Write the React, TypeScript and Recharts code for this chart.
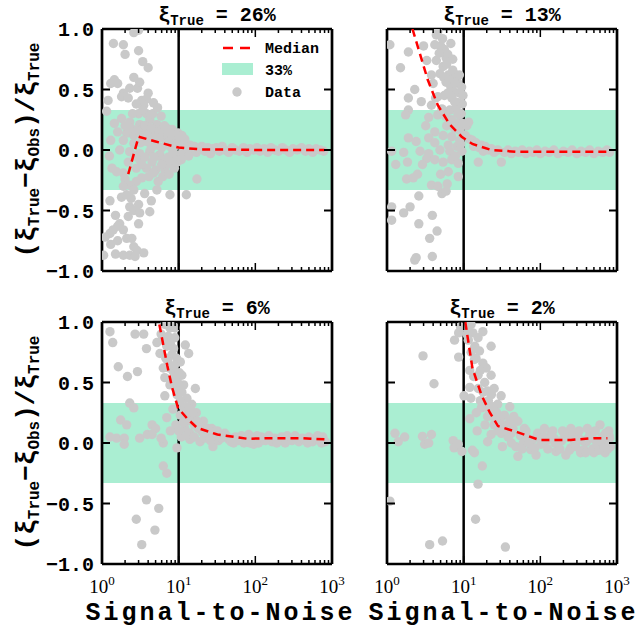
import React from 'react';
import { ComposedChart, Scatter, XAxis, YAxis, ReferenceArea, ReferenceLine } from 'recharts';

type Pt = [number, number];

const xTicks = [1, 2, 3, 4, 5, 6, 7, 8, 9, 10, 20, 30, 40, 50, 60, 70, 80, 90, 100, 200, 300, 400, 500, 600, 700, 800, 900, 1000];
const yTicks = [-1, -0.5, 0, 0.5, 1];
const yTickLabels = ['\u22121.0', '\u22120.5', '0.0', '0.5', '1.0'];
const panelTitles = ['26%', '13%', '6%', '2%'];
const bandLimit = 0.33;
const snrCut = 10;

// scatter points: [signal-to-noise, relative error]
const tlPoints: Pt[] = [
  [2.6, 0.97], [3.0, 0.99], [1.41, 0.88], [1.9, 0.87], [2.0, 0.79], [3.0, 0.82], [3.4, 0.73], [4.0, 0.68],
  [2.6, 0.6], [1.45, 0.58], [1.6, 0.55], [1.9, 0.47], [1.8, 0.44], [2.3, 0.51], [2.9, 0.51], [4.0, 0.47],
  [3.3, 0.41], [3.8, 0.42], [4.7, 0.39], [3.5, 0.37], [2.8, 0.38], [3.0, 0.3], [3.8, 0.3], [1.15, 0.32],
  [1.2, 0.41], [2.2, 0.43], [3.1, 0.56], [1.3, 0.55],
  [1.8, 0.26], [2.3, 0.23], [3.1, 0.21], [4.2, 0.25], [5.2, 0.21], [7.0, 0.18], [1.6, 0.15], [2.1, 0.14],
  [2.6, 0.12], [3.5, 0.15], [4.7, 0.12], [6.3, 0.11], [8.1, 0.1], [1.9, 0.08], [2.6, 0.055], [3.8, 0.07],
  [5.2, 0.04], [7.7, 0.03], [9.0, 0.055], [1.7, 0.0], [2.3, -0.014], [3.1, -0.03], [4.2, -0.014], [5.7, -0.04],
  [8.0, -0.1], [2.2, -0.1], [3.1, -0.08], [4.5, -0.1], [6.3, -0.08], [1.55, -0.18], [1.9, -0.19], [2.8, -0.15],
  [3.8, -0.15], [5.0, -0.165], [6.6, -0.165], [4.7, -0.19], [3.3, -0.23], [2.8, -0.26], [2.3, -0.29], [5.5, -0.05],
  [7.0, 0.13], [9.3, 0.09], [6.0, 0.02], [4.4, 0.02], [3.4, 0.1], [1.3, 0.08], [1.25, -0.05], [6.8, -0.13],
  [9.0, -0.04], [8.2, 0.17], [5.9, 0.28],
  [2.4, 0.18], [2.9, 0.16], [3.6, 0.2], [4.4, 0.18], [5.5, 0.15], [6.5, 0.2], [7.5, 0.07], [8.6, 0.12],
  [9.6, 0.04], [3.2, 0.06], [3.9, 0.12], [4.9, 0.08], [5.6, 0.1], [6.9, 0.05], [8.4, -0.02], [2.7, -0.05],
  [3.6, -0.06], [4.8, -0.06], [6.0, -0.12], [7.3, -0.06], [8.8, -0.15], [3.3, -0.12], [4.1, -0.22], [5.4, -0.26],
  [6.2, -0.22], [7.5, -0.2], [2.5, 0.3], [3.4, 0.33], [4.6, 0.3], [5.3, 0.35], [2.0, 0.2], [1.45, 0.22],
  [1.35, -0.15], [2.0, -0.24], [3.6, -0.36], [4.4, -0.42], [2.6, -0.33], [1.9, -0.3], [9.8, 0.14], [9.5, -0.1],
  [5.2, -0.33], [7.7, -0.37], [12.6, -0.37], [1.27, -0.42], [1.8, -0.39], [2.1, -0.37], [2.4, -0.4], [2.3, -0.47],
  [3.0, -0.45], [2.6, -0.5], [3.1, -0.52], [1.5, -0.54], [2.2, -0.55], [4.2, -0.51], [3.0, -0.61], [1.7, -0.61],
  [1.6, -0.63], [1.4, -0.66], [1.27, -0.69], [1.9, -0.66], [2.1, -0.73], [2.45, -0.73], [2.6, -0.8], [2.85, -0.83],
  [1.5, -0.86], [1.9, -0.87], [2.3, -0.87], [2.7, -0.88], [3.5, -0.85], [1.05, -0.87], [1.1, -0.72], [1.6, -0.75],
  [1.3, -0.78], [17.3, -0.24],
  [10.5, 0.05], [11, -0.03], [11.5, 0.02], [12, 0.06], [12.5, -0.02], [13, 0.01], [14, 0.04], [15, -0.01],
  [16, 0.03], [17, -0.02], [18, 0.01], [20, 0.03], [22, -0.01], [24, 0.02], [26, -0.03], [28, 0.01],
  [31, 0.02], [34, -0.01], [37, 0.03], [40, 0.0], [45, -0.02], [50, 0.02], [55, 0.0], [62, -0.01],
  [70, 0.02], [78, -0.02], [85, 0.01], [95, 0.0], [105, 0.02], [115, -0.01], [130, 0.01], [145, -0.02],
  [160, 0.02], [180, 0.0], [200, -0.01], [225, 0.02], [250, 0.0], [280, -0.02], [310, 0.01], [350, 0.0],
  [400, 0.02], [450, -0.01], [500, 0.01], [560, -0.02], [620, 0.01], [700, 0.0], [780, -0.01], [10.2, 0.1],
  [11, 0.12], [10.8, -0.08], [13.5, -0.05], [12, 0.09],
];

const trPoints: Pt[] = [
  [1.09, 0.87], [1.9, 0.81], [3.0, 0.86], [4.2, 0.87], [4.6, 0.98], [5.6, 0.83], [5.9, 0.76], [3.3, 0.74],
  [4.4, 0.74], [5.4, 0.69], [1.5, 0.68], [3.8, 0.62], [4.9, 0.63], [6.3, 0.62], [7.9, 0.62], [5.9, 0.56],
  [4.0, 0.55], [2.3, 0.5], [2.8, 0.4], [1.9, 0.43], [4.6, 0.44], [5.6, 0.45], [7.0, 0.43], [8.5, 0.39],
  [3.8, 0.37], [5.2, 0.34], [6.6, 0.33], [1.9, 0.33], [1.75, 0.29], [3.5, 0.27], [4.6, 0.29], [7.0, 0.25],
  [8.8, 0.23], [4.2, 0.15], [5.4, 0.12], [7.0, 0.11], [1.9, 0.1], [2.4, 0.07], [3.5, 0.1], [4.2, 0.06],
  [6.3, 0.04], [8.2, 0.03], [9.5, -0.01], [1.15, -0.01], [1.65, -0.02], [2.7, -0.01], [3.5, -0.03], [4.9, 0.0],
  [6.6, -0.01], [1.3, -0.12], [1.85, -0.1], [3.3, -0.07], [4.2, -0.08], [5.4, -0.1], [7.0, -0.08], [8.5, -0.11],
  [6.3, -0.18], [8.5, -0.22], [1.8, -0.24], [2.2, -0.23], [2.5, -0.2], [3.8, -0.29], [4.6, -0.3], [5.2, -0.36],
  [5.9, -0.34], [2.6, -0.38], [1.15, -0.47], [1.65, -0.52], [2.0, -0.47], [3.9, -0.54], [2.6, -0.61], [4.5, -0.67],
  [3.6, -0.73], [1.15, -0.58], [2.4, -0.89], [3.9, -0.88], [2.3, -0.91],
  [5.0, 0.86], [6.0, 0.71], [7.2, 0.66], [6.8, 0.52], [7.5, 0.48], [8.8, 0.47], [8.0, 0.35], [9.3, 0.3],
  [6.0, 0.2], [9.0, 0.16], [9.6, 0.38], [8.3, 0.56],
  [4.8, 0.8], [5.3, 0.92], [6.2, 0.79], [6.8, 0.88], [7.2, 0.75], [5.5, 0.6], [6.5, 0.58], [7.8, 0.55],
  [8.8, 0.62], [9.4, 0.52], [9.8, 0.45], [6.2, 0.47], [7.6, 0.4], [8.4, 0.3], [9.7, 0.22], [8.9, 0.08],
  [7.6, 0.18], [5.8, 0.28], [4.3, 0.43], [3.2, 0.2], [2.9, -0.12], [6.1, -0.28], [7.8, -0.05], [9.2, 0.05],
  [5.0, -0.2], [4.4, 0.95],
  [10.5, 0.12], [11, 0.2], [11.6, 0.23], [12, 0.09], [13, 0.08], [13.5, 0.03], [14.5, 0.06], [15.5, -0.1],
  [16, 0.02], [17, 0.04], [18, -0.01], [19, 0.03], [21, 0.0], [23, 0.01], [25, -0.02], [28, 0.0],
  [31, -0.1], [34, -0.02], [38, 0.0], [42, -0.03], [47, -0.01], [52, -0.02], [58, 0.0], [65, -0.03],
  [72, -0.01], [80, -0.02], [90, 0.0], [100, -0.03], [115, -0.01], [130, -0.02], [150, 0.0], [170, -0.03],
  [200, -0.01], [230, -0.02], [260, 0.0], [300, -0.03], [340, -0.01], [390, -0.02], [440, 0.0], [500, -0.03],
  [570, -0.01], [650, -0.02], [740, 0.0], [800, -0.02],
];

const blPoints: Pt[] = [
  [1.27, 0.92], [1.38, 0.83], [2.7, 0.9], [3.5, 0.9], [3.8, 0.78], [1.63, 0.63], [2.15, 0.55], [2.9, 0.59],
  [6.6, 0.98], [7.7, 0.95], [5.9, 0.9], [7.3, 0.88], [8.9, 0.87], [5.2, 0.83], [7.0, 0.8], [12.2, 0.81],
  [13.5, 0.74], [5.7, 0.74], [8.2, 0.73], [10.5, 0.67], [6.3, 0.62], [8.5, 0.59], [11, 0.56], [6.6, 0.54],
  [7.7, 0.48], [11.6, 0.48], [16.5, 0.45], [6.6, 0.39], [9.5, 0.4], [12.8, 0.37], [14.8, 0.32], [2.3, 0.33],
  [2.6, 0.29], [8.4, 0.28], [10.5, 0.23], [17, 0.25], [7.0, 0.21], [1.75, 0.19], [2.1, 0.15], [4.5, 0.15],
  [5.0, 0.12], [12.8, 0.18], [21, 0.18], [7.8, 0.1], [3.9, 0.07], [4.5, 0.07], [6.3, 0.0], [3.1, 0.04],
  [1.27, 0.05], [1.55, 0.04], [1.95, 0.04], [1.95, -0.01], [5.9, 0.04], [9.5, -0.04], [6.3, -0.19], [7.0, -0.25],
  [14, 0.03], [19, 0.01], [28, -0.03], [23, 0.07], [35, 0.055], [52, 0.04], [71, 0.0], [95, -0.01],
  [3.8, -0.47], [5.5, -0.54], [2.8, -0.63], [4.9, -0.72], [3.3, -0.84],
  [6.8, 0.7], [7.5, 0.62], [8.0, 0.5], [9.0, 0.55], [9.8, 0.45], [10.5, 0.35], [11.5, 0.3], [13, 0.25],
  [15, 0.2], [16, 0.15], [18, 0.12], [20, 0.1], [24, 0.08], [27, 0.12], [30, 0.06], [12, 0.12],
  [14, 0.08], [10.8, 0.05], [9.2, 0.15], [22, 0.04], [26, 0.02], [33, 0.02], [40, 0.08], [45, 0.03],
  [6.2, 0.85], [7.8, 0.82], [8.6, 0.78], [9.4, 0.7], [7.2, 0.68], [8.8, 0.64], [10.2, 0.58], [9.7, 0.5],
  [11, 0.42], [12.2, 0.3], [13.8, 0.28], [15.5, 0.25], [17.5, 0.18], [19, 0.14], [21, 0.08], [24, 0.12],
  [28, 0.06], [32, 0.1], [36, 0.04], [42, 0.06], [11.5, 0.17], [10, 0.1], [13, 0.06], [16, 0.05],
  [9.0, 0.95], [8.0, 0.97],
  [48, 0.01], [55, 0.05], [60, 0.02], [66, 0.06], [75, 0.03], [82, 0.07], [90, 0.02], [100, 0.04],
  [110, 0.0], [120, 0.05], [135, 0.02], [150, 0.06], [165, 0.01], [180, 0.04], [200, 0.02], [220, 0.05],
  [245, 0.0], [270, 0.04], [300, 0.02], [330, 0.06], [370, 0.01], [410, 0.04], [450, 0.02], [500, 0.05],
  [560, 0.01], [620, 0.04], [690, 0.02], [760, 0.05], [820, 0.01],
  [52, 0.0], [64, 0.04], [85, 0.0], [105, 0.06], [140, 0.04], [190, 0.0], [260, 0.06], [350, 0.04],
  [480, 0.0], [650, 0.06], [730, 0.0],
];

const brPoints: Pt[] = [
  [1.09, -0.48], [1.27, 0.08], [1.4, 0.01], [1.7, 0.05], [2.9, 0.055], [3.1, -0.01], [3.8, 0.07], [3.5, 0.0],
  [2.95, 0.72], [4.1, 0.49], [7.3, 0.02], [7.5, -0.04], [8.5, -0.01], [9.5, -0.07], [13, -0.06], [13.8, -0.08],
  [17.5, -0.19], [15.4, -0.34], [14.3, -0.63], [3.6, -0.84], [5.3, -0.81], [35, -0.86], [8.6, 0.91], [7.6, 0.85],
  [9.1, 0.96], [8.6, 0.71], [10.1, 0.39], [12.4, 0.37], [12, 0.46], [10.8, 0.96], [12.5, 0.98], [13.2, 0.91],
  [15.4, 0.87], [17.8, 0.92], [22.8, 0.8], [16.1, 0.76], [13.8, 0.69], [17.8, 0.66], [19.7, 0.62], [15.4, 0.56],
  [22.8, 0.56], [18.8, 0.5], [25, 0.45], [30.8, 0.39], [20.5, 0.43], [40, 0.3], [27.8, 0.32], [17, 0.29],
  [14.6, 0.25], [20.5, 0.22], [34, 0.23], [45, 0.22], [25, 0.15], [37.5, 0.15], [51, 0.18], [62, 0.12],
  [31, 0.08], [41.5, 0.08], [22.8, 0.07], [20.5, 0.01], [32, -0.03], [51, -0.11], [48, -0.03], [68, 0.04],
  [92, 0.08], [102, -0.01], [88, -0.1], [137, 0.07], [170, 0.0], [205, 0.08], [250, -0.04], [305, 0.04],
  [370, -0.055], [450, 0.08], [555, -0.01], [600, 0.15], [700, -0.08], [780, 0.1], [820, -0.03], [500, -0.08],
  [335, -0.08], [160, -0.07], [215, -0.1], [75, -0.055], [113, 0.12], [250, 0.12], [410, 0.12], [680, 0.01],
  [11.5, 0.85], [14, 0.8], [12, 0.6], [16.5, 0.6], [18, 0.42], [21, 0.35], [24, 0.3], [27, 0.25],
  [30, 0.2], [33, 0.14], [28, 0.1], [38, 0.05], [44, 0.12], [55, 0.06], [60, 0.0], [80, 0.03],
  [95, 0.05], [120, 0.02], [150, 0.04], [190, 0.02], [230, 0.05], [280, 0.0], [330, 0.03], [400, 0.01],
  [470, 0.04], [530, 0.02], [640, 0.05], [730, 0.03], [790, 0.06],
  [11, 0.9], [12.5, 0.75], [13.5, 0.55], [14.5, 0.7], [15.5, 0.45], [16.5, 0.35], [19, 0.3], [22, 0.25],
  [23, 0.4], [26, 0.2], [29, 0.16], [35, 0.12], [40, 0.18], [12, 0.2], [15, 0.1], [19, 0.15],
  [35, 0.1], [42, 0.0], [58, -0.05], [65, 0.1], [72, 0.0], [85, -0.04], [110, 0.05], [125, -0.05],
  [145, 0.1], [155, 0.0], [180, -0.05], [195, 0.1], [240, -0.06], [265, 0.07], [290, -0.03], [320, 0.1],
  [360, 0.02], [390, -0.08], [430, 0.05], [480, -0.05], [520, 0.1], [580, -0.06], [620, 0.02], [670, -0.04],
  [710, 0.08], [760, -0.05], [800, 0.04],
];

// running medians
const tlMedianX = [2.2, 3.0, 5.0, 10, 20, 50, 100, 200, 500, 800];
const tlMedianY = [-0.2, 0.11, 0.07, 0.02, 0.005, 0.005, 0.0, 0.0, 0.0, 0.0];
const trMedianX = [2.15, 3.4, 4.6, 6.6, 9.4, 13, 23, 50, 100, 300, 800];
const trMedianY = [1.0, 0.58, 0.37, 0.21, 0.11, 0.05, 0.0, -0.015, -0.015, -0.015, -0.015];
const blMedianX = [5.6, 7.1, 8.2, 9.8, 13, 17.4, 32, 79, 150, 400, 800];
const blMedianY = [0.98, 0.64, 0.46, 0.29, 0.2, 0.125, 0.07, 0.035, 0.04, 0.04, 0.03];
const brMedianX = [10.5, 13, 17, 22, 28, 50, 97, 250, 500, 750];
const brMedianY = [1.0, 0.62, 0.4, 0.25, 0.14, 0.09, 0.025, 0.025, 0.04, 0.04];

const MONO = "'Liberation Mono', 'DejaVu Sans Mono', monospace";
const SERIF = "'Liberation Serif', 'DejaVu Serif', serif";
const GRAY = '#c9c9c9';
const MINT = '#aaeed2';

const isMajor = (v: number) => Math.abs(Math.log10(v) - Math.round(Math.log10(v))) < 1e-6;

function BottomTick(props: any) {
  const { x, y, payload, showLabel } = props;
  const major = isMajor(payload.value);
  return (
    <g>
      <line x1={x} x2={x} y1={y} y2={y - (major ? 8 : 4)} stroke="#000" strokeWidth={1.5} />
      {showLabel && major && (
        <text x={x} y={y + 29} textAnchor="middle" fontFamily={SERIF} fontSize={19} fill="#000">
          10<tspan dy={-8} fontSize={13}>{Math.round(Math.log10(payload.value))}</tspan>
        </text>
      )}
    </g>
  );
}

function TopTick(props: any) {
  const { x, y, payload } = props;
  const major = isMajor(payload.value);
  return <line x1={x} x2={x} y1={y} y2={y + (major ? 8 : 4)} stroke="#000" strokeWidth={1.5} />;
}

function LeftTick(props: any) {
  const { x, y, payload, index, showLabel } = props;
  return (
    <g>
      <line x1={x} x2={x + 8} y1={y} y2={y} stroke="#000" strokeWidth={2} />
      {showLabel && (
        <text x={x - 8} y={y} dy="0.35em" textAnchor="end" fontFamily={MONO} fontWeight="bold" fontSize={20} fill="#000">
          {yTickLabels[yTicks.indexOf(payload.value)] ?? yTickLabels[index]}
        </text>
      )}
    </g>
  );
}

function RightTick(props: any) {
  const { x, y } = props;
  return <line x1={x} x2={x - 8} y1={y} y2={y} stroke="#000" strokeWidth={2} />;
}

const toRows = (pts: Pt[]) => pts.map(([x, y]) => ({ x, y }));
const zipRows = (xs: number[], ys: number[]) => xs.map((x, i) => ({ x, y: ys[i] }));

function Panel({ points, medX, medY, showX, showY }: { points: Pt[]; medX: number[]; medY: number[]; showX: boolean; showY: boolean }) {
  const median = zipRows(medX, medY);
  return (
    <ComposedChart width={345} height={310} margin={{ top: 27, right: 11, bottom: 0, left: 0 }}>
      <XAxis dataKey="x" type="number" scale="log" domain={[1, 1000]} allowDataOverflow ticks={xTicks} interval={0}
        tickSize={0} tickMargin={0} height={39} axisLine={{ stroke: '#000', strokeWidth: 2.7 }} tickLine={false}
        tick={(p: any) => <BottomTick {...p} showLabel={showX} />} />
      <XAxis xAxisId="top" orientation="top" dataKey="x" type="number" scale="log" domain={[1, 1000]} allowDataOverflow
        ticks={xTicks} interval={0} tickSize={0} tickMargin={0} height={2} axisLine={{ stroke: '#000', strokeWidth: 2.7 }}
        tickLine={false} tick={(p: any) => <TopTick {...p} />} />
      <YAxis dataKey="y" type="number" domain={[-1, 1]} allowDataOverflow ticks={yTicks} interval={0}
        tickSize={0} tickMargin={0} width={102} axisLine={{ stroke: '#000', strokeWidth: 2.7 }} tickLine={false}
        tick={(p: any) => <LeftTick {...p} showLabel={showY} />} />
      <YAxis yAxisId="right" orientation="right" dataKey="y" type="number" domain={[-1, 1]} allowDataOverflow ticks={yTicks}
        interval={0} tickSize={0} tickMargin={0} width={2} axisLine={{ stroke: '#000', strokeWidth: 2.7 }}
        tickLine={false} tick={(p: any) => <RightTick {...p} />} />
      <ReferenceArea y1={-bandLimit} y2={bandLimit} fill={MINT} fillOpacity={1} stroke="none" />
      <Scatter data={toRows(points)} isAnimationActive={false}
        shape={(p: any) => <circle cx={p.cx} cy={p.cy} r={4.7} fill={GRAY} />} />
      <ReferenceLine x={snrCut} stroke="#000" strokeWidth={2.5} />
      <Scatter data={median} isAnimationActive={false} lineType="joint"
        line={{ stroke: '#ff0000', strokeWidth: 2.5, strokeDasharray: '8 5' }}
        shape={() => <g />} />
      {/* ties the top and right axes to a series so they are drawn */}
      <Scatter xAxisId="top" yAxisId="right" data={median} isAnimationActive={false} shape={() => <g />} />
    </ComposedChart>
  );
}

function Title({ cx, y, value }: { cx: number; y: number; value: string }) {
  return (
    <text x={cx} y={y} textAnchor="middle" fontFamily={MONO} fontWeight="bold" fontSize={20} fill="#000" style={{ whiteSpace: 'pre' }}>
      {'\u03be'}<tspan fontSize={14} dy={4}>True</tspan><tspan fontSize={20} dy={-4}>{' = ' + value}</tspan>
    </text>
  );
}

function YTitle({ x, cy }: { x: number; cy: number }) {
  return (
    <text x={x} y={cy} transform={`rotate(-90 ${x} ${cy})`} textAnchor="middle" fontFamily={MONO} fontWeight="bold" fontSize={26} fill="#000">
      ({'\u03be'}<tspan fontSize={16} dy={5}>True</tspan><tspan dy={-5}>{'\u2212\u03be'}</tspan>
      <tspan fontSize={16} dy={5}>Obs</tspan><tspan dy={-5}>{')/\u03be'}</tspan><tspan fontSize={16} dy={5}>True</tspan>
    </text>
  );
}

function XTitle({ cx }: { cx: number }) {
  return (
    <text x={cx + 1.5} y={620} textAnchor="middle" fontFamily={MONO} fontWeight="bold" fontSize={25} letterSpacing={3} fill="#000">
      Signal-to-Noise
    </text>
  );
}

export default function App() {
  return (
    <div style={{ position: 'absolute', left: 0, top: 0, width: 639, height: 630, background: '#fff', overflow: 'hidden' }}>
      <div style={{ position: 'absolute', left: 0, top: 0 }}>
        <Panel points={tlPoints} medX={tlMedianX} medY={tlMedianY} showX={false} showY={true} />
      </div>
      <div style={{ position: 'absolute', left: 285, top: 0 }}>
        <Panel points={trPoints} medX={trMedianX} medY={trMedianY} showX={false} showY={false} />
      </div>
      <div style={{ position: 'absolute', left: 0, top: 293 }}>
        <Panel points={blPoints} medX={blMedianX} medY={blMedianY} showX={true} showY={true} />
      </div>
      <div style={{ position: 'absolute', left: 285, top: 293 }}>
        <Panel points={brPoints} medX={brMedianX} medY={brMedianY} showX={true} showY={false} />
      </div>
      <svg width={639} height={630} style={{ position: 'absolute', left: 0, top: 0, pointerEvents: 'none' }}>
        <Title cx={217} y={21} value={panelTitles[0]} />
        <Title cx={502} y={21} value={panelTitles[1]} />
        <Title cx={217} y={314} value={panelTitles[2]} />
        <Title cx={502} y={314} value={panelTitles[3]} />
        <YTitle x={34} cy={150} />
        <YTitle x={34} cy={443} />
        <XTitle cx={219} />
        <XTitle cx={502} />
        <line x1={223} x2={251} y1={48} y2={48} stroke="#ff0000" strokeWidth={2.5} strokeDasharray="10 7" />
        <text x={265} y={53} fontFamily={MONO} fontWeight="bold" fontSize={15} fill="#000">Median</text>
        <rect x={222} y={63} width={31} height={12} fill={MINT} />
        <text x={265} y={75} fontFamily={MONO} fontWeight="bold" fontSize={15} fill="#000">33%</text>
        <circle cx={237} cy={92} r={4.7} fill={GRAY} />
        <text x={265} y={97} fontFamily={MONO} fontWeight="bold" fontSize={15} fill="#000">Data</text>
      </svg>
    </div>
  );
}
